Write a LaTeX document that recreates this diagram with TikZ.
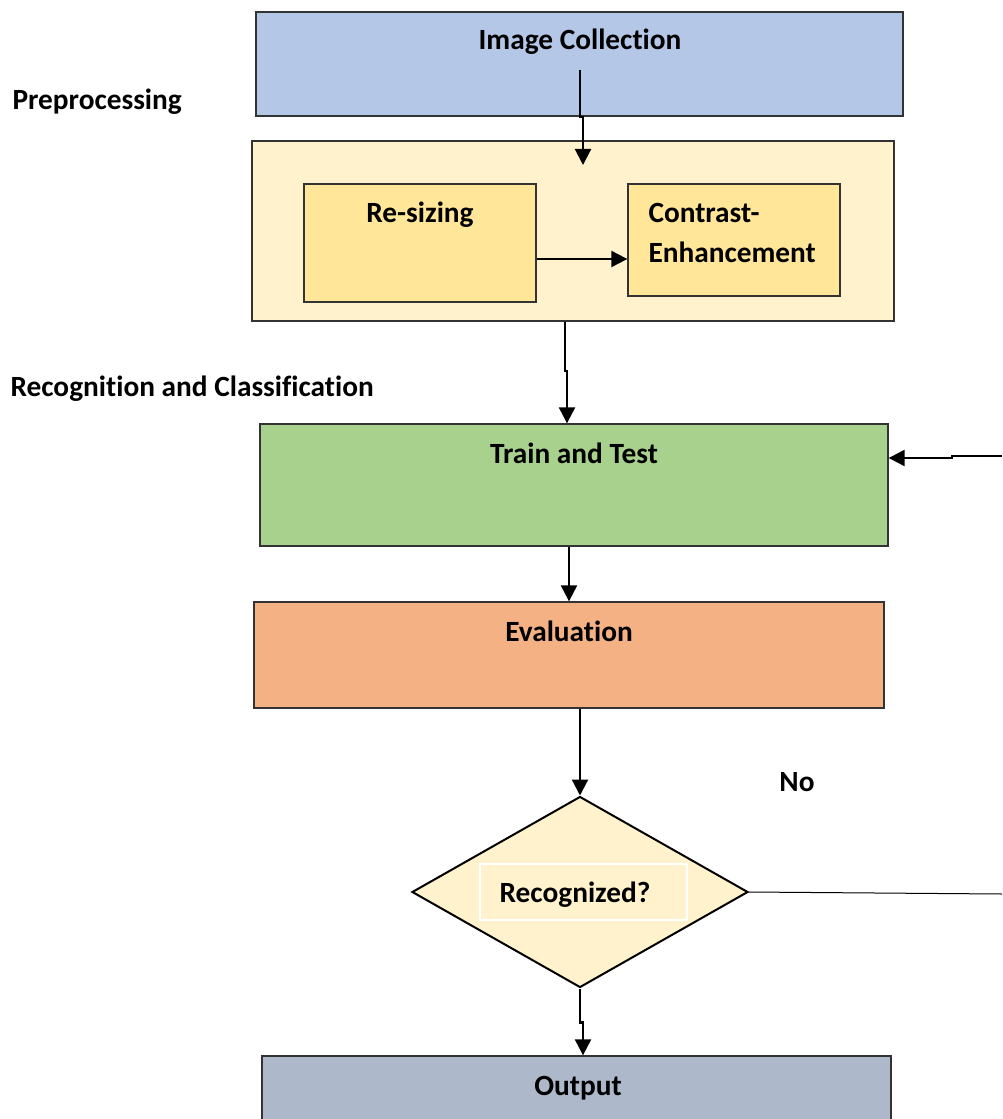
\documentclass[tikz,border=0pt]{standalone}
\usepackage{fontspec}
\setmainfont{Carlito}[Ligatures={NoCommon}]
\usepackage{tikz}
\usetikzlibrary{shapes.geometric,arrows.meta,calc}
\tikzset{every picture/.style={line width=0.75pt}}

\definecolor{collectblue}{RGB}{180,199,231}
\definecolor{prepcream}{RGB}{255,242,204}
\definecolor{prepyellow}{RGB}{255,230,153}
\definecolor{traingreen}{RGB}{169,209,142}
\definecolor{evalorange}{RGB}{244,177,131}
\definecolor{outgrey}{RGB}{173,185,202}

\tikzset{
  stage/.style={draw=black!80, line width=1pt, inner sep=0pt},
  title/.style={font=\fontsize{22}{30}\selectfont\bfseries, inner sep=0pt, anchor=base},
  flow/.style={line width=1.6pt, -{Triangle[length=12pt,width=12pt]}},
}

\begin{document}
\begin{tikzpicture}[x=0.75pt,y=0.75pt,yscale=-1,xscale=1]
		\useasboundingbox (0,0) rectangle (1002,1119);
		
		%Shape: Rectangle
		\node [stage, fill=collectblue, minimum width=485.25pt, minimum height=78pt] (imgcol) at (579.5,64) {};
		%Shape: Rectangle
		\node [stage, fill=prepcream, minimum width=481.5pt, minimum height=135pt] (prep) at (573,231) {};
		%Shape: Rectangle
		\node [stage, fill=prepyellow, minimum width=174pt, minimum height=88.5pt] (resize) at (420,243) {};
		%Shape: Rectangle
		\node [stage, fill=prepyellow, minimum width=159pt, minimum height=84pt] (contrast) at (734,240) {};
		%Shape: Rectangle
		\node [stage, fill=traingreen, minimum width=471pt, minimum height=91.5pt] (train) at (574,485) {};
		%Shape: Rectangle
		\node [stage, fill=evalorange, minimum width=472.5pt, minimum height=79.5pt] (eval) at (569,655) {};
		%Shape: Diamond
		\node [diamond, draw, line width=1.5pt, fill=prepcream, inner sep=0pt, minimum width=252pt, minimum height=143.25pt] (dec) at (580,892) {};
		\node [draw=white, line width=1pt, inner sep=0pt, minimum width=155.25pt, minimum height=42pt] (decbox) at (583.5,892) {};
		%Shape: Rectangle
		\node [stage, fill=outgrey, minimum width=471.75pt, minimum height=55.5pt] (out) at (576.5,1093) {};
		
		%Free ends of the loop
		\coordinate (icdrop) at (580,70);
		\coordinate (prepin) at (583,165);
		\coordinate (loopin) at (1002,456);
		\coordinate (loopout) at (1002,894);
		
		%Straight Lines
		\draw [flow] (icdrop) -- ++(0,47) -| (prepin);
		\draw [flow] ($(resize.east)+(0,16)$) coordinate (rsout) -- (rsout -| contrast.west);
		\draw [flow] ($(prep.south)+(-8,0)$) -- ++(0,49) -| ($(train.north)+(-7,0)$);
		\draw [flow] (loopin) -- ++(-50,0) |- ($(train.east)+(0,-27)$);
		\draw [flow] (train.south -| eval.north) -- (eval.north);
		\draw [flow] (eval.south -| dec.north) -- (dec.north);
		\draw [flow] (dec.south) -- ++(0,34) -| ($(out.north)+(6.5,0)$);
		\draw (dec.east) -- (loopout);
		
		% Text Node
		\draw (580,50) node [title] (imgtxt) {Image Collection};
		% Text Node
		\draw (12,110) node [title, anchor=base west] (preptxt) {Preprocessing};
		% Text Node
		\draw (420,223) node [title] (resizetxt) {Re-sizing};
		% Text Node
		\draw (648,263) node [title, anchor=base west, align=left] (contrasttxt) {Contrast-\\Enhancement};
		% Text Node
		\draw (10,396) node [title, anchor=base west] (recogtxt) {Recognition and Classification};
		% Text Node
		\draw (574,463) node [title] (traintxt) {Train and Test};
		% Text Node
		\draw (569,641) node [title] (evaltxt) {Evaluation};
		% Text Node
		\draw (797,791) node [title] (notxt) {No};
		% Text Node
		\draw (575,902) node [title] (dectxt) {Recognized?};
		% Text Node
		\draw (578,1095) node [title] (outtxt) {Output};
		
\end{tikzpicture}
\end{document}
